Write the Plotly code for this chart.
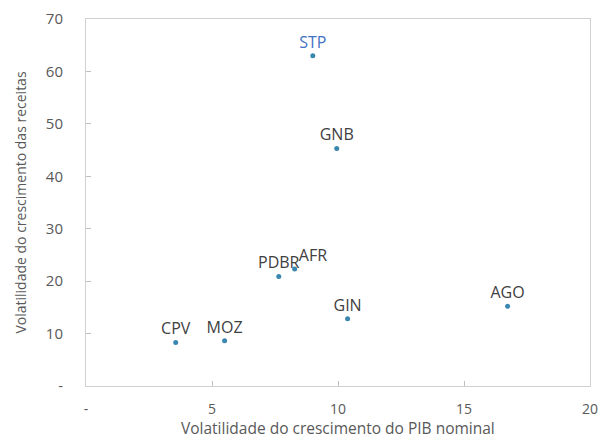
import plotly.graph_objects as go

# dados
paises = ["STP", "GNB", "PDBR", "AFR", "CPV", "MOZ", "GIN", "AGO"]
vol_pib = [9.0, 9.95, 7.65, 8.28, 3.56, 5.5, 10.38, 16.73]
vol_receitas = [63.0, 45.3, 20.9, 22.3, 8.3, 8.65, 12.85, 15.2]

x_ticks = [0, 5, 10, 15, 20]
x_tick_labels = ["-", "5", "10", "15", "20"]
y_ticks = [0, 10, 20, 30, 40, 50, 60, 70]
y_tick_labels = ["-", "10", "20", "30", "40", "50", "60", "70"]

FONTE = "Open Sans, Noto Sans, sans-serif"
CINZA = "#595959"

posicoes = ["top right" if p == "AFR" else "top center" for p in paises]
cores_texto = ["#4472C4" if p == "STP" else "#404040" for p in paises]

fig = go.Figure()
fig.add_trace(go.Scatter(
    x=vol_pib, y=vol_receitas,
    mode="markers+text",
    text=paises,
    textposition=posicoes,
    textfont=dict(family=FONTE, size=16, color=cores_texto),
    marker=dict(color="#3A87B0", size=5),
    showlegend=False,
))

eixo = dict(
    showline=True, linecolor="#D0D0D0", linewidth=1, mirror=True,
    ticks="inside", ticklen=5, tickcolor="#BFBFBF",
    showgrid=False, zeroline=False, automargin=False,
    tickfont=dict(family=FONTE, size=15, color=CINZA),
)

fig.update_xaxes(
    eixo, range=[0, 20], tickvals=x_ticks, ticktext=x_tick_labels,
    ticklabelstandoff=10, tickfont_size=14,
)
fig.update_yaxes(
    eixo, range=[0, 70], tickvals=y_ticks, ticktext=y_tick_labels,
    ticklabelstandoff=19,
    title_text="Volatilidade do crescimento das receitas", title_standoff=15,
    title_font=dict(family=FONTE, size=14, color=CINZA),
)

# título do eixo x como anotação, colado na borda de baixo como no original
fig.add_annotation(
    text="Volatilidade do crescimento do PIB nominal",
    xref="paper", yref="paper", x=0.5, y=0,
    xanchor="center", yanchor="top", yshift=-29,
    showarrow=False,
    font=dict(family=FONTE, size=15.5, color=CINZA),
)

fig.update_layout(
    width=600, height=439,
    template="simple_white",
    margin=dict(l=86, r=10, t=19, b=53),
    paper_bgcolor="white", plot_bgcolor="white",
    font=dict(family=FONTE, color=CINZA),
)

# tira a margem padrão do body para a figura ocupar a janela inteira
fig.write_html("out.html", config={"displayModeBar": False},
               post_script="document.body.style.margin = '0';")
